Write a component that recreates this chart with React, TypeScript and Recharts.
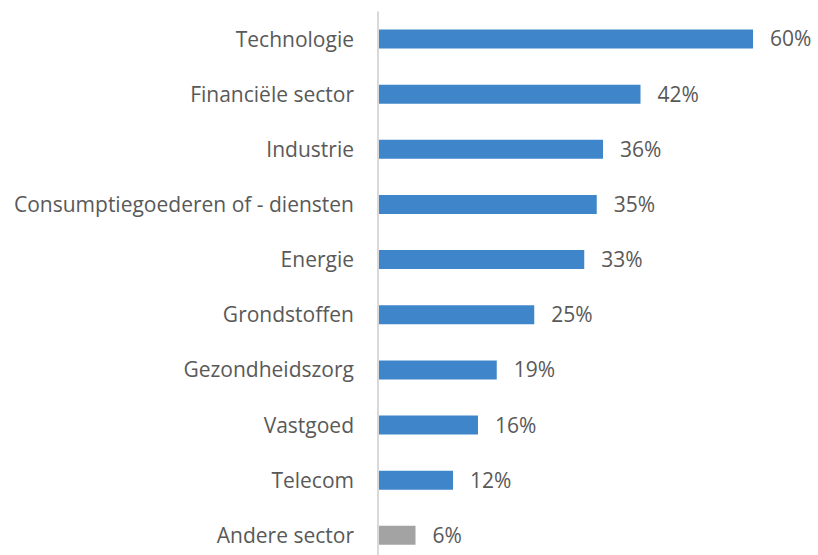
import { BarChart, Bar, XAxis, YAxis, Cell, LabelList } from 'recharts'

const sectors = [
  'Technologie',
  'Financiële sector',
  'Industrie',
  'Consumptiegoederen of - diensten',
  'Energie',
  'Grondstoffen',
  'Gezondheidszorg',
  'Vastgoed',
  'Telecom',
  'Andere sector',
]
const percentages = [60, 42, 36, 35, 33, 25, 19, 16, 12, 6]
const barColors = ['#3E86C9', '#3E86C9', '#3E86C9', '#3E86C9', '#3E86C9', '#3E86C9', '#3E86C9', '#3E86C9', '#3E86C9', '#A3A3A3']

const data = sectors.map((s, i) => ({ sector: s, pct: percentages[i] }))

export default function App() {
  return (
    <div style={{ position: 'absolute', left: 0, top: 0, width: 818, height: 555, overflow: 'hidden', background: '#fff' }}>
      <BarChart
        width={818}
        height={563}
        data={data}
        layout="vertical"
        margin={{ top: 11.5, right: 2.5, bottom: 0, left: 0 }}
      >
        <XAxis type="number" domain={[0, 70]} hide />
        <YAxis
          type="category"
          dataKey="sector"
          width={378}
          axisLine={{ stroke: '#D9D9D9', strokeWidth: 2 }}
          tickLine={false}
          tickMargin={18}
          interval={0}
          tick={{ fontSize: 21, fill: '#595959', fontFamily: '"Open Sans", sans-serif' }}
        />
        <Bar dataKey="pct" barSize={19} isAnimationActive={false}>
          {data.map((d, i) => (
            <Cell key={d.sector} fill={barColors[i]} />
          ))}
          <LabelList
            dataKey="pct"
            position="right"
            offset={17}
            formatter={(v: number) => `${v}%`}
            style={{ fontSize: 21, fill: '#595959', fontFamily: '"Open Sans", sans-serif' }}
          />
        </Bar>
      </BarChart>
    </div>
  )
}
